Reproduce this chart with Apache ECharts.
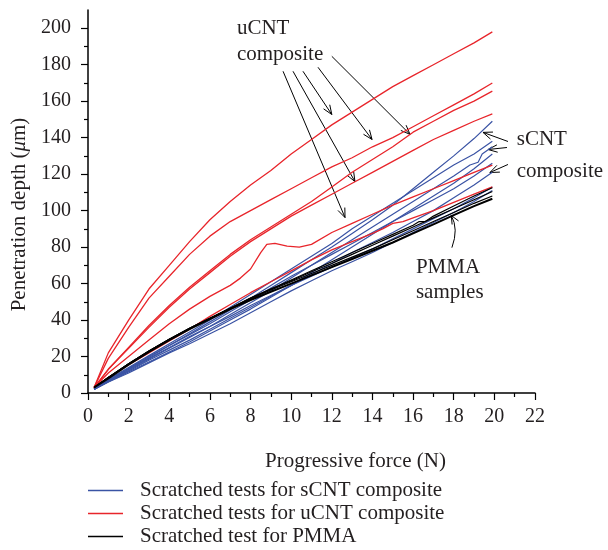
<!DOCTYPE html>
<html>
<head>
<meta charset="utf-8">
<script src="https://cdn.jsdelivr.net/npm/echarts@6/dist/echarts.min.js"></script>
<style>
  html, body { margin: 0; padding: 0; background: #fff; }
  #chart { width: 608px; height: 550px; }
</style>
</head>
<body>
<div id="chart"></div>
<script>
// tick labels
const xTicks = [0, 2, 4, 6, 8, 10, 12, 14, 16, 18, 20, 22];
const yTicks = [0, 20, 40, 60, 80, 100, 120, 140, 160, 180, 200];

const nameS = "Scratched tests for sCNT composite";
const nameU = "Scratched tests for uCNT composite";
const nameP = "Scratched test for PMMA";

// uCNT composite (red)
const uCNT1 = [[0.3,3],[1,22],[2,40],[3,57],[4,70],[5,83],[6,95],[7,105],[8,114],[9,122],[10,131],[11,139],[12,147],[13,154],[14,161],[15,168],[16,174],[17,180],[18,186],[19,192],[19.9,198]];
const uCNT2 = [[0.3,3],[1,19],[2,36],[3,52],[4,64],[5,76],[6,86],[7,94],[8,100],[9,106],[10,112],[11,118],[12,124],[13,129],[14,135],[15,140],[16,146],[17,152],[18,158],[19,164],[19.9,170]];
const uCNT3 = [[0.3,3],[1,13],[2,25],[3,37],[4,48],[5,58],[6,67],[7,76],[8,84],[9,91],[10,98],[11,105],[12,113],[13,121],[14,128],[15,135],[16,143],[17,149],[18,155],[19,160],[19.9,165.5]];
const uCNT4 = [[0.3,3],[1,13],[2,24.5],[3,36],[4,47],[5,57],[6,66],[7,75],[8,83],[9,90],[10,97],[11,103],[12,109],[13,115],[14,121],[15,127],[16,133],[17,139],[18,144],[19,149],[19.9,153]];
const uCNT5 = [[0.3,3],[1,11],[2,20],[3,29],[4,38],[5,46],[6,53],[7,59],[7.5,63],[8,68],[8.5,77],[8.8,81.5],[9.2,82],[9.8,80.5],[10.4,80],[11,81.5],[12,88],[13,93],[14,98],[15,103],[16,107.5],[17,112],[18,116.5],[19,121],[19.9,125]];
const uCNT6 = [[0.3,3],[1,8.5],[2,15.5],[3,22],[4,28.5],[5,35],[6,42],[7,48.5],[8,55],[9,61],[10,67],[11,73],[12,78.5],[13,83],[14,87.5],[14.5,90],[15,93],[15.5,94],[16,96],[17,100],[18,104.5],[19,109],[19.9,113]];

// sCNT composite (blue)
const sCNT1 = [[0.3,2],[1,7],[2,13],[3,19.5],[4,26],[5,32.5],[6,39],[7,45.5],[8,52],[9,59],[10,66],[11,73],[12,80],[13,87.5],[14,95],[15,103],[16,112],[17,121],[18,130],[19,139.5],[19.9,149]];
const sCNT2 = [[0.3,2],[1,7.5],[2,14],[3,20.5],[4,27],[5,33.5],[6,40],[7,47],[8,54],[9,61],[10,68],[11,75],[12,82],[13,90],[14,97],[15,104],[16,111],[17,118],[18,125],[19,131],[19.9,138]];
const sCNT3 = [[0.3,2],[1,6.5],[2,12.5],[3,18.5],[4,24.5],[5,30.5],[6,36.5],[7,43],[8,49.5],[9,56],[10,63],[11,70],[12,77],[13,84],[14,91],[15,98],[16,105],[17,112],[18,119],[18.8,125],[19.2,126.5],[19.4,131],[19.9,135]];
const sCNT4 = [[0.3,2],[1,6],[2,11.5],[3,17],[4,22.5],[5,28],[6,34],[7,40],[8,46],[9,52.5],[10,59],[11,66],[12,73],[13,80],[14,87],[15,94],[16,101],[17,108],[18,115],[19,123],[19.9,131]];
const sCNT5 = [[0.3,2],[1,7],[2,13.5],[3,20],[4,26],[5,32],[6,38],[7,44.5],[8,51],[9,57.5],[10,64],[11,70],[12,76],[13,82],[14,88],[15,94],[16,100],[17,106],[18,112],[19,119],[19.9,126]];
const sCNT6 = [[0.3,2],[1,6.5],[2,12],[3,18],[4,23.5],[5,29],[6,35],[7,41],[8,47],[9,53],[10,59],[11,65],[12,71],[13,77],[14,82.5],[15,88],[16,94],[17,100],[18,107],[19,114],[19.9,121]];
const sCNT7 = [[0.3,2],[1,7],[2,13],[3,19],[4,25],[5,31],[6,36.5],[7,42],[8,48],[9,53.5],[10,59],[11,64],[12,69],[13,74],[14,79],[15,84.5],[16,90],[17,95.5],[18,101],[19,107],[19.9,113]];
const sCNT8 = [[0.3,2],[1,6],[2,11],[3,16.5],[4,22],[5,27],[6,32.5],[7,38],[8,44],[9,50],[10,56],[11,61.5],[12,67],[13,72],[14,77],[15,82.5],[16,88],[17,93.5],[18,99],[19,105],[19.9,111]];

// PMMA (black)
const pmma1 = [[0.3,3],[1,8.5],[2,16],[3,23],[4,29.5],[5,35.5],[6,41],[7,46.5],[8,51.5],[9,56.5],[10,61],[11,65.5],[12,70],[13,74.5],[14,79],[15,84],[16,89],[17,94],[18,99],[19,104],[19.9,108]];
const pmma2 = [[0.3,3],[1,8.5],[2,16],[3,23],[4,29.5],[5,35.5],[6,41],[7,46.5],[8,52],[9,57],[10,61.5],[11,66.5],[12,71],[13,76],[14,81],[15,86],[16,91],[17,96],[18,101],[19,106],[19.9,110.5]];
const pmma3 = [[0.3,3],[1,8.5],[2,16],[3,23],[4,29.5],[5,35.5],[6,41],[7,46.5],[8,52],[9,57],[10,62],[11,67],[12,72],[13,77],[14,82],[15,87],[16,92],[16.3,94],[16.6,94],[17,97],[18,102.5],[19,108],[19.9,112.5]];
const pmma4 = [[0.3,3],[1,8],[2,15.5],[3,22.5],[4,29],[5,35],[6,40.5],[7,46],[8,51],[9,55.5],[10,60],[11,64.5],[12,69],[13,73.5],[14,78],[15,82.5],[16,87.5],[17,92.5],[18,97.5],[19,102.5],[19.9,106.5]];

// annotation arrows: [fromX, fromY, toX, toY] in data units
const arrows = [
  [9.6, 176.4, 12.65, 96.2],
  [10.09, 176.4, 13.14, 115.9],
  [10.58, 176.4, 12.0, 152.7],
  [11.32, 178.6, 13.98, 139],
  [12.0, 184.6, 15.85, 141.8],
  [20.67, 137.9, 19.44, 142.9],
  [20.62, 134.6, 19.69, 133.5],
  [20.67, 125.3, 19.78, 120.9]
];
// curved arrow: [fromX, fromY, ctrlX, ctrlY, toX, toY]
const curvedArrows = [[17.91, 79.7, 18.25, 90, 17.88, 97.3]];

// annotation texts: [x, y, index]
const noteText = ["uCNT", "composite", "sCNT", "composite", "PMMA", "samples"];
const notePos = [[7.33, 200, 0], [7.33, 185.7, 1], [21.1, 139, 2], [21.1, 121.4, 3], [16.14, 68.7, 4], [16.14, 54.9, 5]];

const FONT = '"Liberation Serif", "DejaVu Serif", serif';
const INK = "#231f20";
const RED = "#e8252b";
const BLUE = "#3a53a4";

const mk = (name, data, color, width) => ({
  name: name,
  type: "line",
  data: data,
  symbol: "none",
  smooth: false,
  lineStyle: { color: color, width: width },
  itemStyle: { color: color },
  silent: true
});

const series = [];
[sCNT1, sCNT2, sCNT3, sCNT4, sCNT5, sCNT6, sCNT7, sCNT8].forEach(d => series.push(mk(nameS, d, BLUE, 1.2)));
[uCNT1, uCNT2, uCNT3, uCNT4, uCNT5, uCNT6].forEach(d => series.push(mk(nameU, d, RED, 1.3)));
[pmma1, pmma2, pmma3].forEach(d => series.push(mk(nameP, d, "#000", 1.2)));
series.push(mk(nameP, pmma4, "#000", 2));

// arrows
series.push({
  type: "custom",
  silent: true,
  data: arrows,
  encode: { x: [0, 2], y: [1, 3] },
  renderItem: (params, api) => {
    const p1 = api.coord([api.value(0), api.value(1)]);
    const p2 = api.coord([api.value(2), api.value(3)]);
    const ang = Math.atan2(p2[1] - p1[1], p2[0] - p1[0]);
    const L = 10, a = 0.38;
    const h1 = [p2[0] - L * Math.cos(ang - a), p2[1] - L * Math.sin(ang - a)];
    const h2 = [p2[0] - L * Math.cos(ang + a), p2[1] - L * Math.sin(ang + a)];
    return {
      type: "group",
      children: [
        { type: "line", shape: { x1: p1[0], y1: p1[1], x2: p2[0], y2: p2[1] }, style: { stroke: "#000", lineWidth: 1 } },
        { type: "polyline", shape: { points: [h1, p2, h2] }, style: { stroke: "#000", fill: null, lineWidth: 1 } }
      ]
    };
  }
});
series.push({
  type: "custom",
  silent: true,
  data: curvedArrows,
  encode: { x: [0, 4], y: [1, 5] },
  renderItem: (params, api) => {
    const p1 = api.coord([api.value(0), api.value(1)]);
    const c = api.coord([api.value(2), api.value(3)]);
    const p2 = api.coord([api.value(4), api.value(5)]);
    const ang = Math.atan2(p2[1] - c[1], p2[0] - c[0]);
    const L = 9, a = 0.42;
    const h1 = [p2[0] - L * Math.cos(ang - a), p2[1] - L * Math.sin(ang - a)];
    const h2 = [p2[0] - L * Math.cos(ang + a), p2[1] - L * Math.sin(ang + a)];
    return {
      type: "group",
      children: [
        { type: "bezierCurve", shape: { x1: p1[0], y1: p1[1], cpx1: c[0], cpy1: c[1], x2: p2[0], y2: p2[1] }, style: { stroke: "#000", fill: null, lineWidth: 1 } },
        { type: "polyline", shape: { points: [h1, p2, h2] }, style: { stroke: "#000", fill: null, lineWidth: 1 } }
      ]
    };
  }
});
// annotation labels
series.push({
  type: "custom",
  silent: true,
  data: notePos,
  encode: { x: 0, y: 1 },
  renderItem: (params, api) => {
    const p = api.coord([api.value(0), api.value(1)]);
    return {
      type: "text",
      x: p[0],
      y: p[1],
      style: { text: noteText[api.value(2)], fill: INK, font: "21px " + FONT, align: "left", verticalAlign: "middle" }
    };
  }
});

const chart = echarts.init(document.getElementById("chart"));
chart.setOption({
  animation: false,
  backgroundColor: "#fff",
  grid: { left: 88, right: 73, top: 10, bottom: 157, containLabel: false },
  legend: {
    data: [nameS, nameU, nameP],
    orient: "vertical",
    left: 83,
    top: 475,
    height: 80,
    icon: "rect",
    itemWidth: 35,
    itemHeight: 1.5,
    itemGap: 2,
    textStyle: { fontFamily: FONT, fontSize: 21, lineHeight: 21, color: INK, padding: [0, 0, 0, 12] }
  },
  xAxis: {
    type: "value",
    min: 0,
    max: 22,
    interval: 2,
    name: "Progressive force (N)",
    nameLocation: "middle",
    nameGap: 58,
    nameTextStyle: { fontFamily: FONT, fontSize: 21, color: INK, padding: [0, 0, 0, 88] },
    axisLine: { show: true, lineStyle: { color: "#000", width: 1.5 } },
    axisTick: { show: true, length: 7, lineStyle: { color: "#000", width: 1.2 } },
    minorTick: { show: true, splitNumber: 2, length: 4, lineStyle: { color: "#000", width: 1.2 } },
    splitLine: { show: false },
    axisLabel: { fontFamily: FONT, fontSize: 20, color: INK, margin: 14 }
  },
  yAxis: {
    type: "value",
    min: 0,
    max: 210,
    interval: 20,
    name: "Penetration depth ({i|μ}m)",
    nameLocation: "middle",
    nameGap: 58,
    nameTextStyle: {
      fontFamily: FONT, fontSize: 21, color: INK, padding: [0, 26, 0, 0],
      rich: { i: { fontFamily: FONT, fontSize: 21, fontStyle: "italic", color: INK } }
    },
    axisLine: { show: true, lineStyle: { color: "#000", width: 1.5 } },
    axisTick: { show: true, length: 7, customValues: yTicks, lineStyle: { color: "#000", width: 1.2 } },
    minorTick: { show: true, splitNumber: 2, length: 4, lineStyle: { color: "#000", width: 1.2 } },
    splitLine: { show: false },
    axisLabel: { fontFamily: FONT, fontSize: 20, color: INK, margin: 17, customValues: yTicks }
  },
  series: series
});
</script>
</body>
</html>
